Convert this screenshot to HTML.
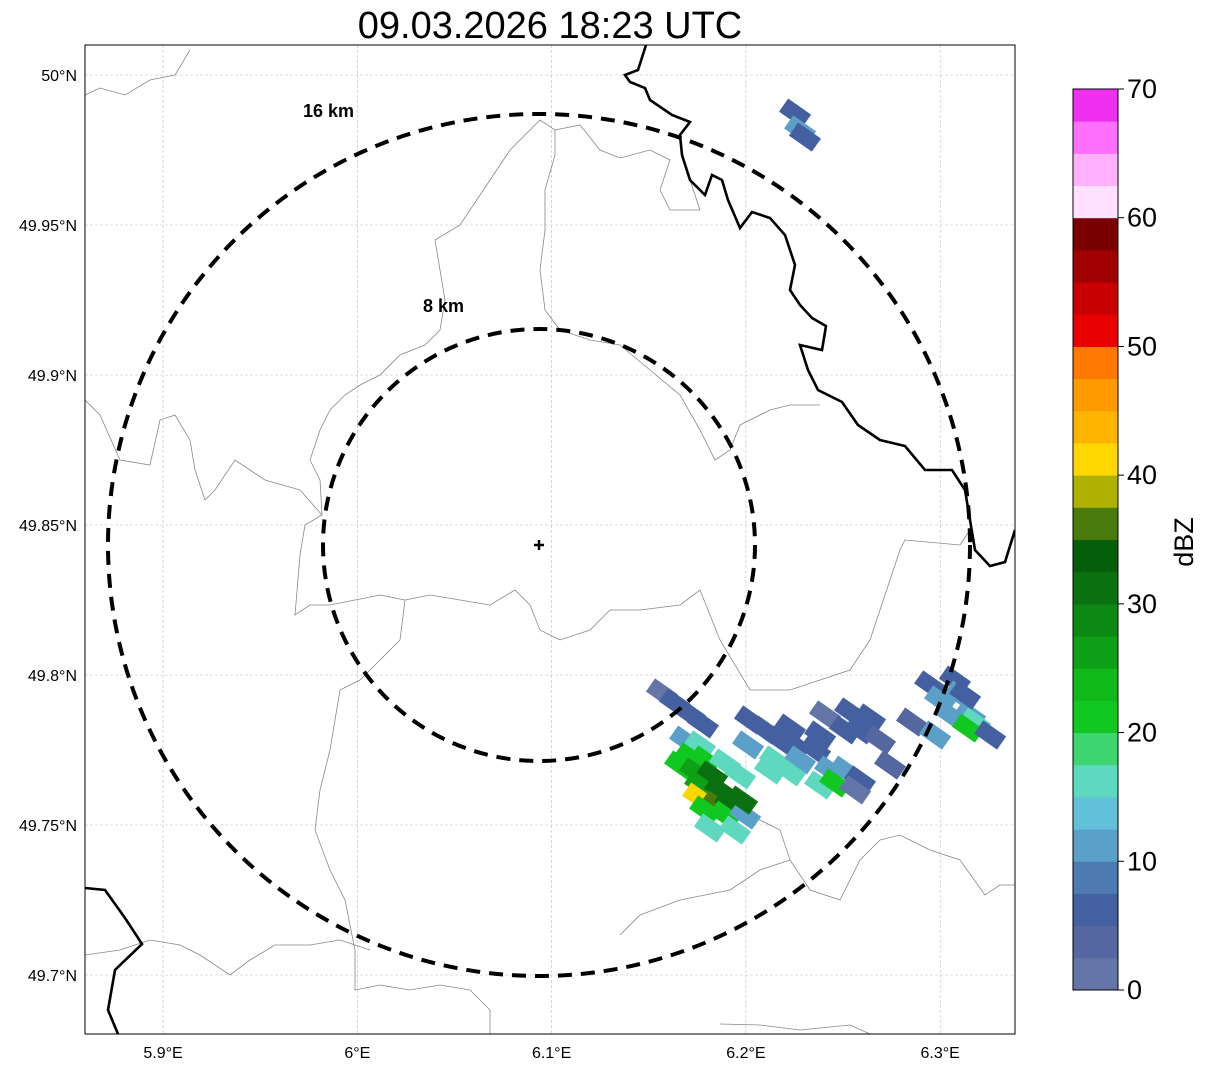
<!DOCTYPE html>
<html><head><meta charset="utf-8"><style>
body{margin:0;background:#fff;font-family:"Liberation Sans",sans-serif}
</style></head><body>
<svg id="s" width="1207" height="1069" xmlns="http://www.w3.org/2000/svg" font-family="Liberation Sans, sans-serif">
<text x="550" y="38" font-size="38" text-anchor="middle">09.03.2026 18:23 UTC</text>
<defs><clipPath id="mc"><rect x="85" y="45" width="930" height="989"/></clipPath></defs>
<g id="grid"></g>
<g clip-path="url(#mc)">
<g fill="none" stroke="#888" stroke-width="0.8">
<path d="M85,95 L100,88 L125,95 L150,80 L175,75 L190,50"/>
<path d="M85,400 L100,415 L120,460 L150,465 L160,420 L175,415 L190,440 L195,470 L205,500 L215,490 L235,460 L250,470 L265,480 L300,490 L322,515 L305,525 L300,555 L295,615 L310,605 L330,605 L355,600 L380,595 L405,600 L430,595 L460,600 L490,605 L515,590 L530,605 L540,630 L560,640 L590,630 L610,610 L640,610 L680,605 L700,590"/>
<path d="M322,515 L320,480 L310,460 L320,430 L330,410 L345,395 L360,385 L380,375 L400,355 L425,345 L440,330 L445,300 L440,270 L435,240 L460,225 L480,195 L510,150 L540,120 L555,130 L555,155 L545,190 L545,230 L540,270 L545,310 L560,330 L590,340 L620,345 L650,370 L680,395 L700,430 L715,460 L730,450 L740,425 L770,410 L790,405 L820,405"/>
<path d="M555,130 L580,125 L600,150 L620,158 L650,150 L670,160 L660,190 L670,210 L700,210 L690,180"/>
<path d="M405,600 L400,640 L380,660 L360,680 L340,690 L335,720 L330,750 L320,790 L315,830 L330,870 L345,900 L355,950 L355,990 L380,985 L410,990 L440,985 L470,990 L490,1010 L490,1034"/>
<path d="M85,955 L120,950 L150,940 L180,945 L200,955 L230,975 L250,960 L275,945 L310,945 L340,940 L370,950"/>
<path d="M700,590 L720,640 L750,690 L790,690 L820,680 L850,670 L870,640 L890,580 L900,550 L905,540 L960,545 L970,530"/>
<path d="M720,810 L760,820 L780,830 L790,860 L810,890 L840,900 L860,860 L880,840 L900,835 L930,850 L960,860 L985,895 L1000,885 L1015,885"/>
<path d="M620,935 L640,915 L680,900 L705,895 L730,890 L760,870 L790,860"/>
<path d="M720,1024 L760,1025 L800,1030 L850,1025 L870,1034"/>
</g>
<g fill="none" stroke="#000" stroke-width="2.6">
<path d="M646,45 L638,70 L625,75 L630,82 L645,88 L650,100 L672,115 L690,122 L680,135 L682,155 L690,180 L705,195 L712,175 L722,180 L728,200 L740,228 L752,212 L770,218 L785,235 L795,265 L790,290 L800,305 L812,318 L826,326 L822,350 L800,345 L808,370 L818,390 L842,402 L858,425 L880,440 L905,446 L925,470 L952,470 L965,490 L970,520 L975,550 L990,566 L1005,562 L1015,530"/>
<path d="M85,888 L105,890 L125,918 L142,944 L115,970 L108,1010 L118,1034"/>
</g>
<g id="echo"></g>
</g>
<g fill="none" stroke="#000" stroke-width="4" stroke-dasharray="14,9">
<circle cx="539" cy="545" r="431"/>
<circle cx="539" cy="545" r="216"/>
</g>
<text x="303" y="117" font-size="18" font-weight="bold">16 km</text>
<text x="423" y="312" font-size="18" font-weight="bold">8 km</text>
<path d="M534,545 H544 M539,540 V550" stroke="#000" stroke-width="2.5"/>
<rect x="85" y="45" width="930" height="989" fill="none" stroke="#000" stroke-width="1"/>
<g id="axes" font-size="16"></g>
<g id="cbar"></g>
<text transform="translate(1193,542) rotate(-90)" font-size="27" text-anchor="middle">dBZ</text>
</svg>
<script>
const lonTicks=[5.9,6.0,6.1,6.2,6.3];
const lonLabels=["5.9°E","6°E","6.1°E","6.2°E","6.3°E"];
const latTicks=[50,49.95,49.9,49.85,49.8,49.75,49.7];
const latLabels=["50°N","49.95°N","49.9°N","49.85°N","49.8°N","49.75°N","49.7°N"];
const cellLon=[6.1568,6.1635,6.1712,6.1779,6.1687,6.1764,6.1712,6.1790,6.1661,6.1738,6.1826,6.1764,6.1867,6.1754,6.1846,6.1918,6.1790,6.1893,6.1815,6.1944,6.1996,6.1980,6.1893,6.1970,
6.2021,6.2098,6.2011,6.2176,6.2253,6.2150,6.2279,6.2124,6.2227,6.2356,6.2433,6.2382,6.2510,6.2459,6.2587,6.2562,6.2227,6.2382,
6.2407,6.2536,6.2639,6.2587,6.2690,6.2510,6.2742,
6.2948,6.3076,6.2999,6.3102,6.3051,6.3154,6.3179,6.3143,6.3257,6.2855,6.2974,6.3128,
6.2253,6.2279,6.2304];
const cellLat=[49.7940,49.7907,49.7870,49.7837,49.7783,49.7767,49.7727,49.7717,49.7700,49.7677,49.7667,49.7633,49.7617,49.7593,49.7567,49.7573,49.7550,49.7533,49.7490,49.7483,49.7533,49.7583,49.7707,49.7667,
49.7850,49.7817,49.7767,49.7783,49.7767,49.7717,49.7717,49.7683,49.7677,49.7750,49.7683,49.7633,49.7683,49.7640,49.7650,49.7617,49.7823,49.7800,
49.7867,49.7877,49.7857,49.7817,49.7783,49.7817,49.7700,
49.7967,49.7983,49.7917,49.7933,49.7867,49.7867,49.7843,49.7823,49.7800,49.7843,49.7800,49.7933,
49.9873,49.9817,49.9793];
const cellDbz=[2,5,5,7,12,15,20,22,22,25,30,27,32,40,37,32,22,20,17,15,12,30,17,15,
5,7,10,5,7,15,12,17,17,5,12,17,12,22,5,2,5,7,
2,5,5,5,3,7,3,
5,5,10,10,12,12,17,22,5,3,10,7,
5,10,5];
const bandColors=["#6475a8","#5567a0","#4560a0","#4d7ab0","#5aa0c8","#62c0d8","#5fd8c0","#3dd570","#10c820","#10b818","#10a018","#0c8814","#0a7010","#055f0a","#4a7a0a","#b0b000","#ffd700","#ffb400","#ff9a00","#ff7800","#e80000","#c80000","#a00000","#7a0000","#ffe0ff","#ffb0ff","#ff70ff","#f030f0"];
const cbTicks=[0,10,20,30,40,50,60,70];
const NS="http://www.w3.org/2000/svg";
const X=lon=>163+(lon-5.9)*1943;
const Y=lat=>75+(50-lat)*3000;
const CB=v=>990-v*(901/70);
function mk(t,a,p){const e=document.createElementNS(NS,t);for(const k in a)e.setAttribute(k,a[k]);p.appendChild(e);return e;}
const grid=document.getElementById('grid'),axes=document.getElementById('axes');
lonTicks.forEach((v,i)=>{
 const l=mk('line',{x1:X(v),x2:X(v),y1:45,y2:1034,stroke:'#bbb','stroke-width':0.6,'stroke-dasharray':'3,2'},grid);
 
 
 const t=mk('text',{x:X(v),y:1058,'text-anchor':'middle'},axes);t.textContent=lonLabels[i];
 
 
});
latTicks.forEach((v,i)=>{
 const l=mk('line',{x1:85,x2:1015,y1:Y(v),y2:Y(v),stroke:'#bbb','stroke-width':0.6,'stroke-dasharray':'3,2'},grid);
 
 
 const t=mk('text',{x:77,y:Y(v)+6,'text-anchor':'end'},axes);t.textContent=latLabels[i];
 
 
});
const echo=document.getElementById('echo');
cellLon.forEach((lon,i)=>{
 const x=X(lon),y=Y(cellLat[i]);const d=cellDbz[i];
 const c=bandColors[Math.min(27,Math.floor(d/2.5))];
 const r=mk('rect',{x:x-14,y:y-8,width:28,height:16,fill:c,transform:`rotate(35 ${x} ${y})`},echo);
 
 
});
const cb=document.getElementById('cbar');
bandColors.forEach((c,i)=>{
 const r=mk('rect',{x:1073,y:CB((i+1)*2.5),width:45,height:CB(i*2.5)-CB((i+1)*2.5)+0.5,fill:c},cb);
 
 
});
mk('rect',{x:1073,y:CB(70),width:45,height:CB(0)-CB(70),fill:'none',stroke:'#000','stroke-width':1},cb);
cbTicks.forEach(v=>{
 mk('line',{x1:1118,x2:1124,y1:CB(v),y2:CB(v),stroke:'#000'},cb);
 const t=mk('text',{x:1127,y:CB(v)+9,'font-size':27},cb);t.textContent=v;
 
 
});
</script>
</body></html>
